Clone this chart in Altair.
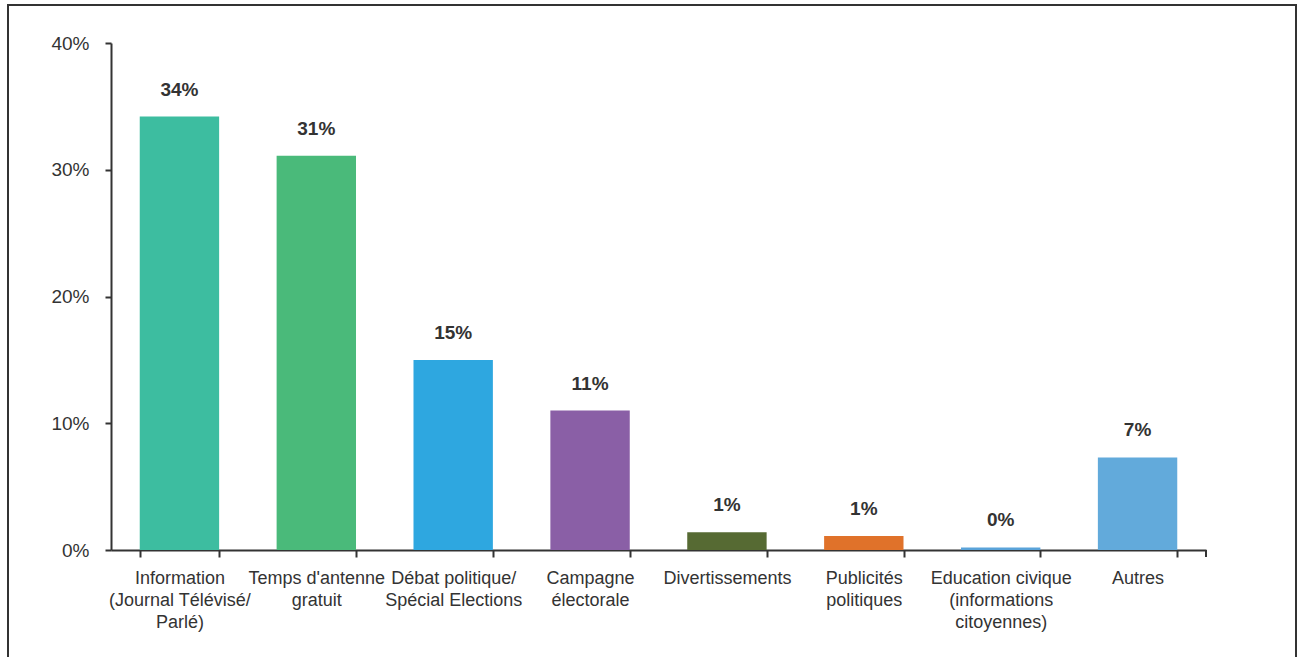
import altair as alt
import pandas as pd

categories = [
    "Information\n(Journal Télévisé/\nParlé)",
    "Temps d'antenne\ngratuit",
    "Débat politique/\nSpécial Elections",
    "Campagne\nélectorale",
    "Divertissements",
    "Publicités\npolitiques",
    "Education civique\n(informations\ncitoyennes)",
    "Autres",
]
values = [34.2, 31.1, 15.0, 11.0, 1.4, 1.1, 0.2, 7.3]
colors = ["#3dbda0", "#4aba7a", "#2ea7e0", "#8a5fa6", "#566a33", "#e0722a", "#5aa3d9", "#62aadb"]
y_ticks = [0, 10, 20, 30, 40]

df = pd.DataFrame({"cat": categories, "val": values, "col": colors})

FONT = "Liberation Sans, Arial, sans-serif"
W, H = 1095, 507
AXIS = "#333333"

x_enc = alt.X(
    "cat:N", sort=categories, title=None,
    scale=alt.Scale(paddingInner=0.42, paddingOuter=0.21),
    axis=alt.Axis(
        labelExpr="split(datum.label, '\\n')", labelAngle=0,
        labelFont=FONT, labelFontSize=18, labelColor="#333333",
        labelLineHeight=22, labelPadding=12, labelBaseline="top",
        tickBand="extent", tickSize=7, tickColor=AXIS, tickWidth=2,
        domainColor=AXIS, domainWidth=2,
    ),
)
y_enc = alt.Y(
    "val:Q", title=None,
    scale=alt.Scale(domain=[0, 40], nice=False),
    axis=alt.Axis(
        values=y_ticks, labelExpr="datum.value + '%'",
        labelFont=FONT, labelFontSize=19, labelColor="#333333",
        labelPadding=16, tickSize=6, tickColor=AXIS, tickWidth=2,
        domainColor=AXIS, domainWidth=2, grid=False,
    ),
)

bars = alt.Chart(df).mark_bar().encode(
    x=x_enc, y=y_enc,
    color=alt.Color("col:N", scale=None, legend=None),
)

labels = alt.Chart(df).transform_calculate(
    lab="format(round(datum.val), 'd') + '%'"
).mark_text(
    dy=-27, baseline="middle", font=FONT, fontSize=19, fontWeight="bold", color="#333333"
).encode(
    x=alt.X("cat:N", sort=categories),
    y="val:Q",
    text="lab:N",
)

end_tick = alt.Chart(df.head(1)).mark_rule(color=AXIS, strokeWidth=2).encode(
    x=alt.value(W), y=alt.value(H), y2=alt.value(H + 7)
)

frame = alt.Chart(df.head(1)).mark_rect(
    fill="transparent", stroke="#333333", strokeWidth=2, clip=False
).encode(
    x=alt.value(-103), x2=alt.value(1185), y=alt.value(-38), y2=alt.value(640)
)

chart = alt.layer(frame, bars, labels, end_tick).properties(
    width=W, height=H,
    background="white",
    autosize=alt.AutoSizeParams(type="none"),
    padding={"left": 111, "top": 43, "right": 94, "bottom": 107},
).configure_view(stroke="transparent", strokeWidth=0)

chart.save("out.html", embed_options={"renderer": "svg", "actions": False})
